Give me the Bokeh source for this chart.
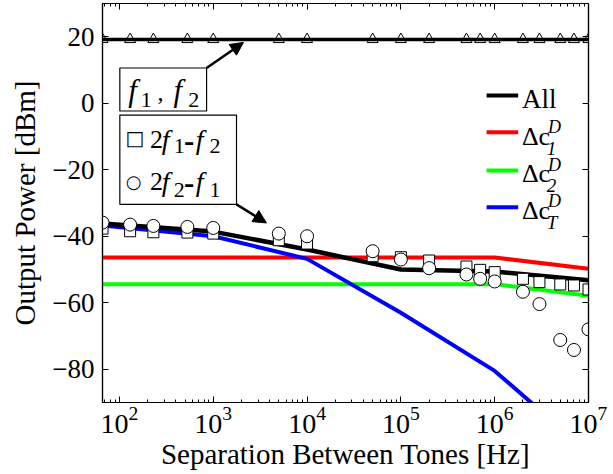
from bokeh.plotting import figure
from bokeh.models import (Range1d, LogAxis, LinearAxis, FixedTicker, BoxAnnotation,
                          Label, Arrow, NormalHead, CustomJSTickFormatter)
from bokeh.embed import file_html
from bokeh.resources import INLINE

# ---------------- data ----------------
tone_sep_hz = [66, 130, 230, 530, 1e3, 5e3, 1e4, 5e4, 1e5, 2e5, 5e5, 7e5,
               1e6, 2e6, 3e6, 5e6, 7e6, 1e7]
fund_dbm = [19.2, 19.2, 19.2, 19.2, 19.2, 19.2, 19.2, 19.2, 19.2, 19.2, 19.2, 19.2,
            19.2, 19.2, 19.2, 19.2, 19.2, 19.2]
im3_low_dbm = [-37.7, -38.5, -38.8, -38.9, -39.2, -41.2, -42.2, -46.0, -46.3, -47.3,
               -49.1, -50.1, -50.8, -52.8, -53.8, -54.5, -54.8, -56.0]     # 2f1-f2 (squares)
im3_high_dbm = [-35.9, -36.5, -36.9, -37.2, -37.5, -39.2, -40.0, -44.5, -47.0, -49.6,
                -51.5, -52.8, -53.6, -56.7, -60.4, -71.2, -74.2, -68.0]    # 2f2-f1 (circles)

model_hz = [66, 1e3, 1e4, 1e5, 1e6, 1e7]
all_dbm = [-36.2, -38.6, -44.0, -50.0, -50.6, -53.2]
dc1_dbm = [-46.4, -46.4, -46.4, -46.4, -46.4, -49.8]
dc2_dbm = [-54.4, -54.4, -54.4, -54.4, -54.4, -57.9]
dcT_dbm = [-36.8, -40.0, -46.8, -63.0, -80.5, -105.0]

x_tick_hz = [1e2, 1e3, 1e4, 1e5, 1e6, 1e7]
y_tick_dbm = [-80, -60, -40, -20, 0, 20]

FONT = "Liberation Serif"
PX_PER_DB = 3.325   # frame height / y span, used only to nudge text baselines

p = figure(width=613, height=474, x_axis_type="log",
           x_range=Range1d(66, 1e7), y_range=Range1d(-90, 30),
           output_backend="svg", toolbar_location=None,
           min_border_left=102, min_border_right=25, min_border_top=3, min_border_bottom=72)
p.grid.visible = False
p.outline_line_color = "black"
p.outline_line_width = 1.2
p.background_fill_color = "white"
p.border_fill_color = "white"

minor = [k * 10 ** e for e in range(1, 7) for k in range(2, 10)]
xt = FixedTicker(ticks=x_tick_hz, minor_ticks=minor)
yt = FixedTicker(ticks=y_tick_dbm)
yfmt = CustomJSTickFormatter(code="return (tick < 0 ? '\\u2212' : '') + Math.abs(tick).toFixed(0);")
blank = CustomJSTickFormatter(code="return '';")

def style_axis(ax, labels=True):
    ax.axis_line_color = "black"
    ax.axis_line_width = 1.2
    ax.major_tick_in = 6
    ax.major_tick_out = 0
    ax.minor_tick_in = 3
    ax.minor_tick_out = 0
    ax.major_tick_line_color = "black"
    ax.minor_tick_line_color = "black"
    ax.major_label_text_font = FONT
    ax.major_label_text_color = "black"
    ax.axis_label_text_font = FONT
    ax.axis_label_text_font_style = "normal"
    ax.axis_label_text_color = "black"
    if not labels:
        ax.formatter = blank
        ax.major_label_text_font_size = "1px"
        ax.major_label_standoff = 0

xa = p.xaxis[0]
xa.ticker = xt
style_axis(xa)
xa.major_label_text_font_size = "28px"
xa.major_label_standoff = 4
xa.axis_label = "Separation Between Tones [Hz]"
xa.axis_label_text_font_size = "29px"
xa.axis_label_standoff = 2

ya = p.yaxis[0]
ya.ticker = yt
ya.formatter = yfmt
style_axis(ya)
ya.minor_tick_in = 0
ya.major_label_text_font_size = "27px"
ya.major_label_standoff = 8
ya.axis_label = "Output Power [dBm]"
ya.axis_label_text_font_size = "29px"
ya.axis_label_standoff = 8

top = LogAxis(ticker=xt)
style_axis(top, labels=False)
p.add_layout(top, "above")
right = LinearAxis(ticker=yt)
style_axis(right, labels=False)
right.minor_tick_in = 0
p.add_layout(right, "right")

# ---------------- model curves ----------------
p.line(model_hz, dc1_dbm, line_color="#ff0000", line_width=4)
p.line(model_hz, dc2_dbm, line_color="#00ff00", line_width=4)
p.line(model_hz, dcT_dbm, line_color="#0000ff", line_width=4)
p.line(model_hz, all_dbm, line_color="black", line_width=4.5)

# ---------------- measured points ----------------
p.scatter(tone_sep_hz, fund_dbm, marker="triangle", size=11,
          fill_color="white", line_color="black", line_width=1)
p.line(tone_sep_hz, fund_dbm, line_color="black", line_width=3.5)
p.scatter(tone_sep_hz, im3_low_dbm, marker="square", size=11,
          fill_color="white", line_color="black", line_width=1)
p.scatter(tone_sep_hz, im3_high_dbm, marker="circle", size=13,
          fill_color="white", line_color="black", line_width=1)

# ---------------- annotation boxes ----------------
def lab(x, y, text, size, style="normal", font=FONT, descent=0.216):
    # Bokeh puts the bottom of the em box at y; lift it so y is the baseline
    yy = y + descent * size / PX_PER_DB
    p.add_layout(Label(x=x, y=yy, text=text, text_font=font, text_font_size=f"{size}px",
                       text_font_style=style, text_align="left", text_baseline="alphabetic",
                       text_color="black"))

p.add_layout(BoxAnnotation(left=101, right=849, top=10.6, bottom=-2.33,
                           fill_color="white", fill_alpha=1.0,
                           line_color="black", line_width=1.2, line_alpha=1.0))
p.add_layout(BoxAnnotation(left=101, right=1770, top=-3.55, bottom=-30.4,
                           fill_color="white", fill_alpha=1.0,
                           line_color="black", line_width=1.2, line_alpha=1.0))
p.add_layout(Arrow(end=NormalHead(size=13, fill_color="black", line_color="black"),
                   x_start=849, y_start=10.6, x_end=2100, y_end=18.3,
                   line_color="black", line_width=2.5))
p.add_layout(Arrow(end=NormalHead(size=13, fill_color="black", line_color="black"),
                   x_start=1770, y_start=-30.4, x_end=3690, y_end=-36.0,
                   line_color="black", line_width=2.5))

# f1 , f2
lab(124, 1.8, "f", 31, "italic")
lab(169, -0.5, "1", 22)
lab(255, 1.8, ",", 24)
lab(377, 1.8, "f", 31, "italic")
lab(540, -0.5, "2", 22)

# key for 2f1-f2 / 2f2-f1
lab(116, -10.4, "\u25a1", 20, font="DejaVu Sans", descent=0.0)
lab(117, -23.6, "\u25cb", 18, font="DejaVu Sans", descent=0.0)
for yb, ys, s1, s2 in [(-12.7, -14.2, "1", "2"), (-25.25, -27.4, "2", "1")]:
    lab(212, yb, "2", 26)
    lab(282, yb, "f", 28, "italic")
    lab(380, ys, s1, 22)
    lab(488, yb - 0.5, "-", 31, "bold")
    lab(650, yb, "f", 28, "italic")
    lab(910, ys, s2, 22)

# ---------------- legend (right) ----------------
leg_rows = [("black", 2.3), ("#ff0000", -8.7), ("#00ff00", -20.2), ("#0000ff", -31.3)]
for col, yy in leg_rows:
    p.add_layout(Arrow(end=None, x_start=8.2e5, y_start=yy, x_end=1.78e6, y_end=yy,
                       line_color=col, line_width=4))
lab(1.95e6, -0.5, "All", 27)
for yb, sub in [(-11.65, "1"), (-22.9, "2"), (-33.9, "T")]:
    lab(1.95e6, yb, "\u0394c", 26)
    lab(3.7e6, yb + 3.2, "D", 18, "italic")
    lab(3.6e6, yb - 3.1, sub, 19, "italic")

open("out.html", "w").write(file_html(p, INLINE))
